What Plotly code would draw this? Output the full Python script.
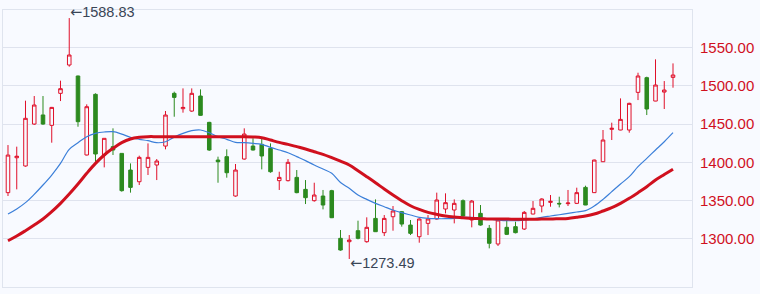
import plotly.graph_objects as go

idx = list(range(77))

opens = [1360.3, 1406.0, 1395.2, 1450.1, 1462.0, 1448.4, 1490.3, 1527.4, 1513.0, 1409.6,
         1489.0, 1409.6, 1420.5, 1411.7, 1389.9, 1374.6, 1393.4, 1396.5, 1421.3, 1490.3,
         1470.2, 1467.1, 1486.8, 1452.3, 1403.0, 1407.4, 1355.9, 1404.3, 1421.3, 1423.5,
         1418.3, 1376.0, 1376.0, 1380.3, 1364.6, 1349.8, 1355.9, 1362.9, 1300.5, 1296.1,
         1310.5, 1296.1, 1326.6, 1307.9, 1328.8, 1335.4, 1317.9, 1302.6, 1320.1, 1325.8,
         1338.9, 1337.6, 1349.8, 1324.5, 1333.2, 1313.6, 1293.1, 1314.9, 1315.8, 1312.7,
         1332.3, 1342.8, 1347.6, 1346.3, 1345.9, 1346.3, 1367.2, 1360.3, 1400.8, 1443.2,
         1442.3, 1442.3, 1491.6, 1510.8, 1480.2, 1492.0, 1511.2]
highs = [1422.6, 1420.5, 1480.7, 1486.8, 1486.8, 1472.5, 1506.9, 1588.83, 1513.5, 1475.9,
         1490.3, 1431.5, 1444.5, 1412.0, 1398.6, 1408.7, 1424.8, 1404.3, 1467.2, 1492.5,
         1496.8, 1496.8, 1495.5, 1453.0, 1407.4, 1417.0, 1397.8, 1444.5, 1431.4, 1431.4,
         1424.8, 1387.7, 1404.3, 1389.9, 1376.8, 1373.3, 1363.8, 1364.0, 1311.4, 1304.8,
         1323.6, 1328.0, 1351.5, 1331.0, 1342.8, 1336.3, 1324.5, 1326.6, 1331.0, 1360.3,
         1359.4, 1351.5, 1351.5, 1350.7, 1344.1, 1318.0, 1326.6, 1324.5, 1322.3, 1336.3,
         1349.3, 1352.9, 1357.2, 1355.0, 1363.8, 1366.8, 1369.4, 1403.5, 1442.3, 1451.9,
         1483.7, 1478.0, 1517.3, 1512.1, 1534.8, 1506.4, 1529.5]
lows = [1355.9, 1364.6, 1394.3, 1449.0, 1449.0, 1425.7, 1480.2, 1525.2, 1446.6, 1409.0,
        1400.8, 1393.4, 1409.6, 1361.6, 1360.3, 1370.3, 1383.4, 1376.8, 1417.0, 1459.7,
        1465.0, 1466.0, 1461.0, 1415.0, 1373.3, 1379.9, 1355.0, 1403.5, 1415.5, 1390.8,
        1386.4, 1363.8, 1375.0, 1359.5, 1345.4, 1348.5, 1338.4, 1327.0, 1284.3, 1273.49,
        1299.2, 1294.8, 1309.0, 1303.5, 1310.5, 1315.8, 1304.8, 1294.8, 1304.8, 1325.0,
        1333.2, 1320.1, 1329.0, 1314.9, 1317.0, 1287.4, 1290.5, 1304.8, 1307.0, 1311.4,
        1332.0, 1334.5, 1341.9, 1341.0, 1342.8, 1345.4, 1344.0, 1360.0, 1400.5, 1429.2,
        1442.0, 1438.8, 1481.5, 1461.9, 1480.0, 1469.8, 1497.7]
closes = [1409.5, 1408.0, 1457.6, 1475.0, 1450.1, 1471.9, 1496.4, 1540.5, 1453.2, 1472.8,
          1410.9, 1431.4, 1416.1, 1362.9, 1367.2, 1406.5, 1406.5, 1401.7, 1461.9, 1485.0,
          1471.9, 1490.3, 1461.5, 1416.1, 1400.8, 1386.4, 1389.9, 1437.0, 1416.1, 1408.3,
          1387.7, 1380.3, 1400.0, 1360.3, 1353.7, 1357.2, 1344.1, 1327.5, 1285.2, 1298.3,
          1300.5, 1314.9, 1309.2, 1326.6, 1336.3, 1319.2, 1307.0, 1325.8, 1325.8, 1350.7,
          1347.2, 1346.3, 1329.7, 1349.3, 1317.9, 1294.0, 1324.5, 1305.7, 1307.9, 1334.5,
          1339.8, 1352.0, 1348.9, 1345.6, 1346.7, 1360.3, 1344.1, 1403.0, 1429.2, 1444.5,
          1456.2, 1477.2, 1513.0, 1469.8, 1501.2, 1494.6, 1514.3]

ma_short = [1332.3, 1338.9, 1347.2, 1358.1, 1370.3, 1383.4, 1398.6, 1417.0, 1425.7, 1433.6,
            1437.9, 1439.7, 1440.1, 1437.0, 1432.7, 1430.1, 1428.3, 1425.7, 1427.0, 1433.0,
            1437.9, 1441.4, 1442.3, 1438.8, 1433.6, 1430.1, 1426.1, 1425.7, 1424.8, 1423.5,
            1419.6, 1416.1, 1412.6, 1407.4, 1402.2, 1396.5, 1391.2, 1385.6, 1373.5, 1366.0,
            1357.2, 1351.5, 1346.3, 1341.9, 1337.6, 1334.1, 1331.0, 1328.0, 1326.6, 1326.2,
            1326.2, 1326.6, 1328.0, 1328.0, 1327.1, 1325.8, 1324.5, 1323.6, 1323.6, 1324.5,
            1325.8, 1328.0, 1329.7, 1331.4, 1333.2, 1335.0, 1336.7, 1342.8, 1351.5, 1361.6,
            1371.6, 1381.2, 1394.3, 1405.2, 1416.1, 1427.0, 1438.8]
ma_long = [1297.4, 1303.5, 1310.5, 1317.9, 1325.8, 1335.4, 1346.3, 1358.5, 1371.6, 1385.6,
           1398.6, 1409.6, 1418.3, 1425.7, 1430.5, 1432.7, 1433.6, 1433.6, 1433.6, 1433.6,
           1433.6, 1433.6, 1433.6, 1433.6, 1433.6, 1433.6, 1433.6, 1433.6, 1433.2, 1432.3,
           1429.2, 1426.1, 1423.5, 1420.5, 1417.4, 1413.9, 1410.4, 1406.1, 1401.5, 1396.5,
           1389.0, 1381.2, 1373.3, 1365.1, 1357.2, 1349.8, 1343.2, 1338.4, 1334.5, 1331.9,
           1329.7, 1328.4, 1327.5, 1326.6, 1326.2, 1325.8, 1325.8, 1325.8, 1325.4, 1325.4,
           1325.4, 1325.8, 1325.8, 1326.2, 1326.6, 1328.0, 1329.7, 1332.3, 1336.3, 1340.6,
           1346.3, 1352.9, 1360.3, 1368.1, 1376.8, 1384.0, 1391.0]

y_ticks = [1300, 1350, 1400, 1450, 1500, 1550]
hi_value = "1588.83"
lo_value = "1273.49"
ARROW = '<span style="font-family:DejaVu Sans">←</span>'

BG = "#f8faff"
UP = "#e0102a"
DOWN = "#2c8a1f"

fig = go.Figure()
fig.add_trace(go.Candlestick(
    x=idx, open=opens, high=highs, low=lows, close=closes,
    increasing=dict(line=dict(color=UP, width=1), fillcolor=BG),
    decreasing=dict(line=dict(color=DOWN, width=1), fillcolor=DOWN),
    whiskerwidth=0, showlegend=False, hoverinfo="skip"))
fig.add_trace(go.Scatter(x=idx, y=ma_short, mode="lines",
                         line=dict(color="#3b7fd9", width=1.2, shape="spline"),
                         showlegend=False, hoverinfo="skip"))
fig.add_trace(go.Scatter(x=idx, y=ma_long, mode="lines",
                         line=dict(color="#d0101e", width=3, shape="spline"),
                         showlegend=False, hoverinfo="skip"))

fig.add_annotation(x=7, y=1588.83, text=ARROW + hi_value, showarrow=False,
                   xanchor="left", yanchor="middle", xshift=-1, yshift=6,
                   font=dict(size=14.5, color="#3a4556", family="Liberation Sans, Arial"))
fig.add_annotation(x=39, y=1273.49, text=ARROW + lo_value, showarrow=False,
                   xanchor="left", yanchor="middle", xshift=-1, yshift=-4,
                   font=dict(size=14.5, color="#3a4556", family="Liberation Sans, Arial"))

fig.update_layout(
    width=760, height=294,
    margin=dict(l=3, r=68, t=10, b=7),
    paper_bgcolor=BG, plot_bgcolor=BG,
    boxgap=0.42,
    font=dict(family="Liberation Sans, Arial"),
    xaxis=dict(range=[-0.57, 78.17], showticklabels=False, showgrid=False,
               zeroline=False, rangeslider=dict(visible=False),
               showline=True, linecolor="#dfe4ee", linewidth=1, mirror=True, ticks=""),
    yaxis=dict(side="right", range=[1236.8, 1599.4], tickvals=y_ticks,
               tickformat=".2f", tickfont=dict(size=15, color="#d0101e"),
               showgrid=True, gridcolor="#dfe3ee", gridwidth=1, zeroline=False,
               showline=True, linecolor="#dfe4ee", linewidth=1, mirror=True,
               ticks="", ticklabelstandoff=4),
)

fig.write_html("out.html")
